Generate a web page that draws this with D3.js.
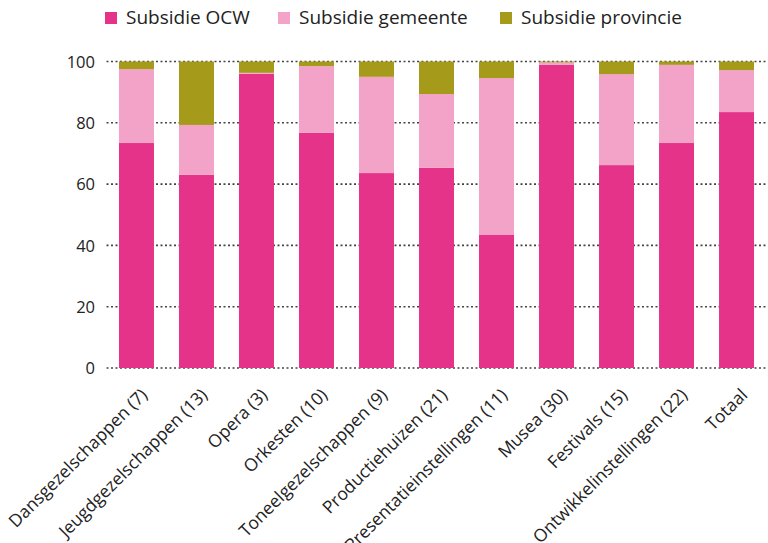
<!DOCTYPE html>
<html>
<head>
<meta charset="utf-8">
<script src="https://cdn.jsdelivr.net/npm/d3@7"></script>
<style>
  html, body { margin: 0; padding: 0; background: #fff; }
  svg { display: block; font-family: "Open Sans", sans-serif; }
</style>
</head>
<body>
<svg id="chart" width="768" height="543"></svg>
<script>
const categories = ["Dansgezelschappen (7)", "Jeugdgezelschappen (13)", "Opera (3)", "Orkesten (10)",
  "Toneelgezelschappen (9)", "Productiehuizen (21)", "Presentatieinstellingen (11)", "Musea (30)",
  "Festivals (15)", "Ontwikkelinstellingen (22)", "Totaal"];
const seriesNames = ["Subsidie OCW", "Subsidie gemeente", "Subsidie provincie"];
const ocw       = [73.4, 63.0, 96.0, 76.7, 63.6, 65.3, 43.4, 98.9, 66.2, 73.4, 83.5];
const gemeente  = [24.1, 16.3, 0.3, 21.8, 31.4, 24.1, 51.2, 0.8, 29.7, 25.5, 13.7];
const provincie = [2.5, 20.7, 3.7, 1.5, 5.0, 10.6, 5.4, 0.3, 4.1, 1.1, 2.8];
const yTicks = [0, 20, 40, 60, 80, 100];
const colors = ["#e43388", "#f2a3c7", "#a69a1a"];

const svg = d3.select("#chart");
const x = d3.scaleBand().domain(categories).range([106.5, 766.5]).paddingInner(0.417).paddingOuter(0.208);
const y = d3.scaleLinear().domain([0, 100]).range([368, 61.5]);

const rows = categories.map((c, i) => ({cat: c, s0: ocw[i], s1: gemeente[i], s2: provincie[i]}));
const stack = d3.stack().keys(["s0", "s1", "s2"])(rows);

// gridlines
const grid = svg.append("g");
grid.selectAll("line").data(yTicks).join("line")
  .attr("x1", 106.5).attr("x2", 768)
  .attr("y1", d => y(d)).attr("y2", d => y(d))
  .attr("stroke", "#444").attr("stroke-width", 1.6)
  .attr("stroke-dasharray", "2,2.5");

// bars
svg.append("g").selectAll("g").data(stack).join("g")
  .attr("fill", (d, i) => colors[i])
  .selectAll("rect").data(d => d).join("rect")
  .attr("x", d => x(d.data.cat))
  .attr("width", x.bandwidth())
  .attr("y", d => y(d[1]))
  .attr("height", d => y(d[0]) - y(d[1]));

// y axis labels
const yAxis = d3.axisLeft(y).tickValues(yTicks).tickSize(0).tickPadding(0);
const yg = svg.append("g").attr("transform", "translate(95,0)").call(yAxis);
yg.select(".domain").remove();
yg.selectAll("text").attr("font-size", 16.5).attr("fill", "#222")
  .attr("font-family", "Open Sans, sans-serif").attr("dy", "0.35em");

// x axis labels
const xAxis = d3.axisBottom(x).tickSize(0).tickPadding(0);
const xg = svg.append("g").attr("transform", "translate(0,368)").call(xAxis);
xg.select(".domain").remove();
xg.selectAll("text")
  .attr("font-size", 17.5).attr("fill", "#222").attr("font-family", "Open Sans, sans-serif")
  .attr("text-anchor", "end")
  .attr("dy", null).attr("y", 0)
  .attr("transform", "translate(12,28) rotate(-45)");

// legend
const legX = [105, 278, 500];
const leg = svg.append("g").selectAll("g").data(seriesNames).join("g")
  .attr("transform", (d, i) => `translate(${legX[i]},12)`);
leg.append("rect").attr("width", 12).attr("height", 12).attr("fill", (d, i) => colors[i]);
leg.append("text").attr("x", 21).attr("y", 12).attr("font-size", 19).attr("fill", "#222")
  .text(d => d);
</script>
</body>
</html>
